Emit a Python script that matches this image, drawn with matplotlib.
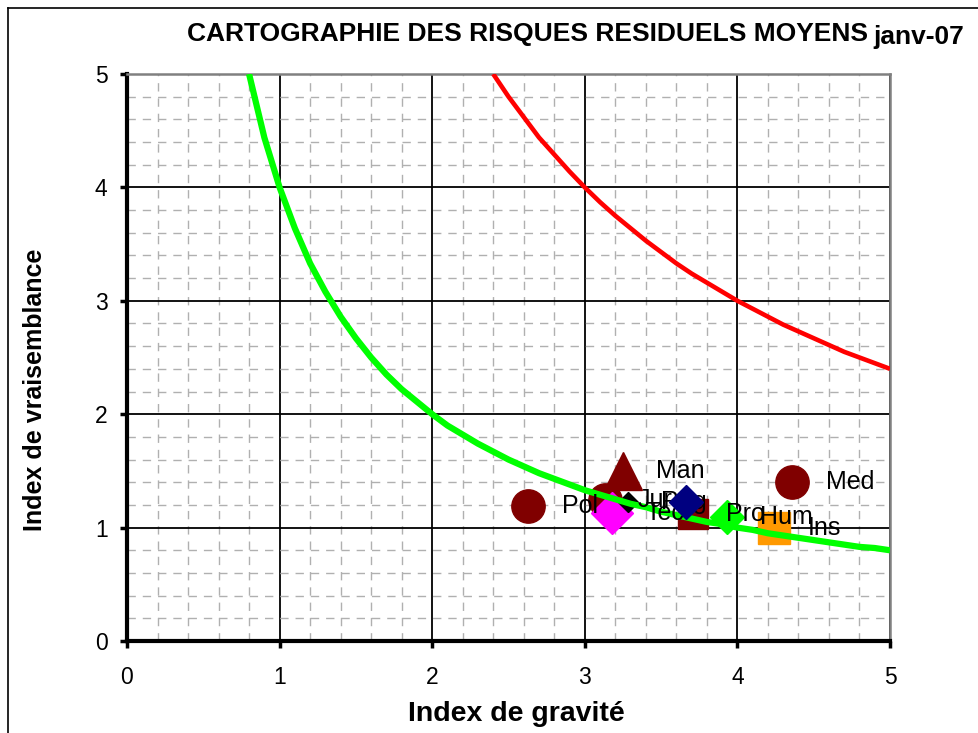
import matplotlib
matplotlib.use("Agg")
import matplotlib.pyplot as plt
from matplotlib.ticker import MultipleLocator
from matplotlib.lines import Line2D

plt.rcParams["font.family"] = ["Liberation Sans", "DejaVu Sans"]

# Seuils (isocourbes)
GREEN_X = [0.8, 0.9, 1.0, 1.1, 1.2, 1.3, 1.4, 1.5, 1.6, 1.7, 1.8, 1.9, 2.0, 2.1, 2.2,
           2.3, 2.4, 2.5, 2.6, 2.7, 2.8, 2.9, 3.0, 3.1, 3.2, 3.3, 3.4, 3.5, 3.6, 3.7,
           3.8, 3.9, 4.0, 4.1, 4.2, 4.3, 4.4, 4.5, 4.6, 4.7, 4.8, 4.9, 5.0]
GREEN_Y = [5.0, 4.44, 4.0, 3.64, 3.33, 3.08, 2.86, 2.67, 2.5, 2.35, 2.22, 2.11, 2.0, 1.9, 1.82,
           1.74, 1.67, 1.6, 1.54, 1.48, 1.43, 1.38, 1.33, 1.29, 1.25, 1.21, 1.18, 1.14, 1.11, 1.08,
           1.05, 1.03, 1.0, 0.98, 0.95, 0.93, 0.91, 0.89, 0.87, 0.85, 0.83, 0.82, 0.8]
RED_X = [2.4, 2.5, 2.6, 2.7, 2.8, 2.9, 3.0, 3.1, 3.2, 3.3, 3.4, 3.5, 3.6, 3.7,
         3.8, 3.9, 4.0, 4.1, 4.2, 4.3, 4.4, 4.5, 4.6, 4.7, 4.8, 4.9, 5.0]
RED_Y = [5.0, 4.8, 4.62, 4.44, 4.29, 4.14, 4.0, 3.87, 3.75, 3.64, 3.53, 3.43, 3.33, 3.24,
         3.16, 3.08, 3.0, 2.93, 2.86, 2.79, 2.73, 2.67, 2.61, 2.55, 2.5, 2.45, 2.4]

# Risques : (gravite, vraisemblance)
NAMES = ["Pol", "Jur", "Tec", "Reg", "Man", "", "Pro", "Hum", "Ins", "Med"]
GRAVITE = [2.63, 3.13, 3.18, 3.28, 3.25, 3.66, 3.71, 3.93, 4.24, 4.36]
VRAISEMBLANCE = [1.19, 1.24, 1.13, 1.23, 1.50, 1.23, 1.12, 1.09, 1.00, 1.40]
MARKERS = ["o", "o", "D", "D", "^", "D", "s", "D", "s", "o"]
COLORS = ["#800000", "#800000", "#FF00FF", "#000000", "#800000", "#000080",
          "#800000", "#00FF00", "#FF9900", "#800000"]
SIZES = [24, 24, 21, 10, 27, 17, 22, 17, 23, 24]

XTICKS = [0, 1, 2, 3, 4, 5]
YTICKS = [0, 1, 2, 3, 4, 5]

fig = plt.figure(figsize=(9.79, 7.33), dpi=100)
ax = fig.add_axes([127 / 979, 92 / 733, 763 / 979, 567 / 733])

ax.set_xlim(0, 5)
ax.set_ylim(0, 5)
ax.set_xticks(XTICKS)
ax.set_yticks(YTICKS)
ax.xaxis.set_minor_locator(MultipleLocator(0.2))
ax.yaxis.set_minor_locator(MultipleLocator(0.2))
ax.grid(which="minor", color="#b0b0b0", lw=1.0, ls=(0, (6, 5)), zorder=0)
ax.grid(which="major", color="black", lw=1.3, zorder=1)
ax.set_axisbelow(True)

ax.tick_params(which="minor", length=0)
ax.tick_params(which="major", direction="out", length=5, width=2.5, labelsize=16.5, pad=9)
ax.tick_params(axis="x", pad=13)

for side in ["left", "bottom"]:
    ax.spines[side].set_linewidth(3)
    ax.spines[side].set_color("black")
for side in ["top", "right"]:
    ax.spines[side].set_linewidth(1.8)
    ax.spines[side].set_color("#808080")

for i in range(len(NAMES)):
    z = 7 if COLORS[i] == "#000080" else 3
    ax.plot(GRAVITE[i], VRAISEMBLANCE[i], marker=MARKERS[i], ms=SIZES[i],
            color=COLORS[i], mec=COLORS[i], ls="none", zorder=z, clip_on=False)
    if NAMES[i]:
        ax.annotate(NAMES[i], (GRAVITE[i], VRAISEMBLANCE[i]), xytext=(24, 0),
                    textcoords="offset points", ha="left", va="center",
                    fontsize=18, zorder=6)

ax.plot(GREEN_X, GREEN_Y, color="#00FF00", lw=4.5, zorder=4, solid_capstyle="butt")
ax.plot(RED_X, RED_Y, color="#FF0000", lw=3.3, zorder=4, solid_capstyle="butt")

fig.text(187 / 979, 1 - 41 / 733, "CARTOGRAPHIE DES RISQUES RESIDUELS MOYENS",
         fontsize=19, fontweight="bold", ha="left", va="baseline")
fig.text(873 / 979, 1 - 44 / 733, "janv-07", fontsize=19, fontweight="bold",
         ha="left", va="baseline")
fig.text(516 / 979, 1 - 714 / 733, "Index de gravité", fontsize=20.5,
         fontweight="bold", ha="center", va="center")
fig.text(35 / 979, 1 - 390 / 733, "Index de vraisemblance", fontsize=18,
         fontweight="bold", ha="center", va="center", rotation=90)

# cadre de la zone graphique
fig.add_artist(Line2D([8 / 979, 8 / 979], [0, 1 - 8 / 733], color="black", lw=1.2))
fig.add_artist(Line2D([8 / 979, 1], [1 - 8 / 733, 1 - 8 / 733], color="black", lw=1.2))

fig.savefig("out.png", dpi=100)
